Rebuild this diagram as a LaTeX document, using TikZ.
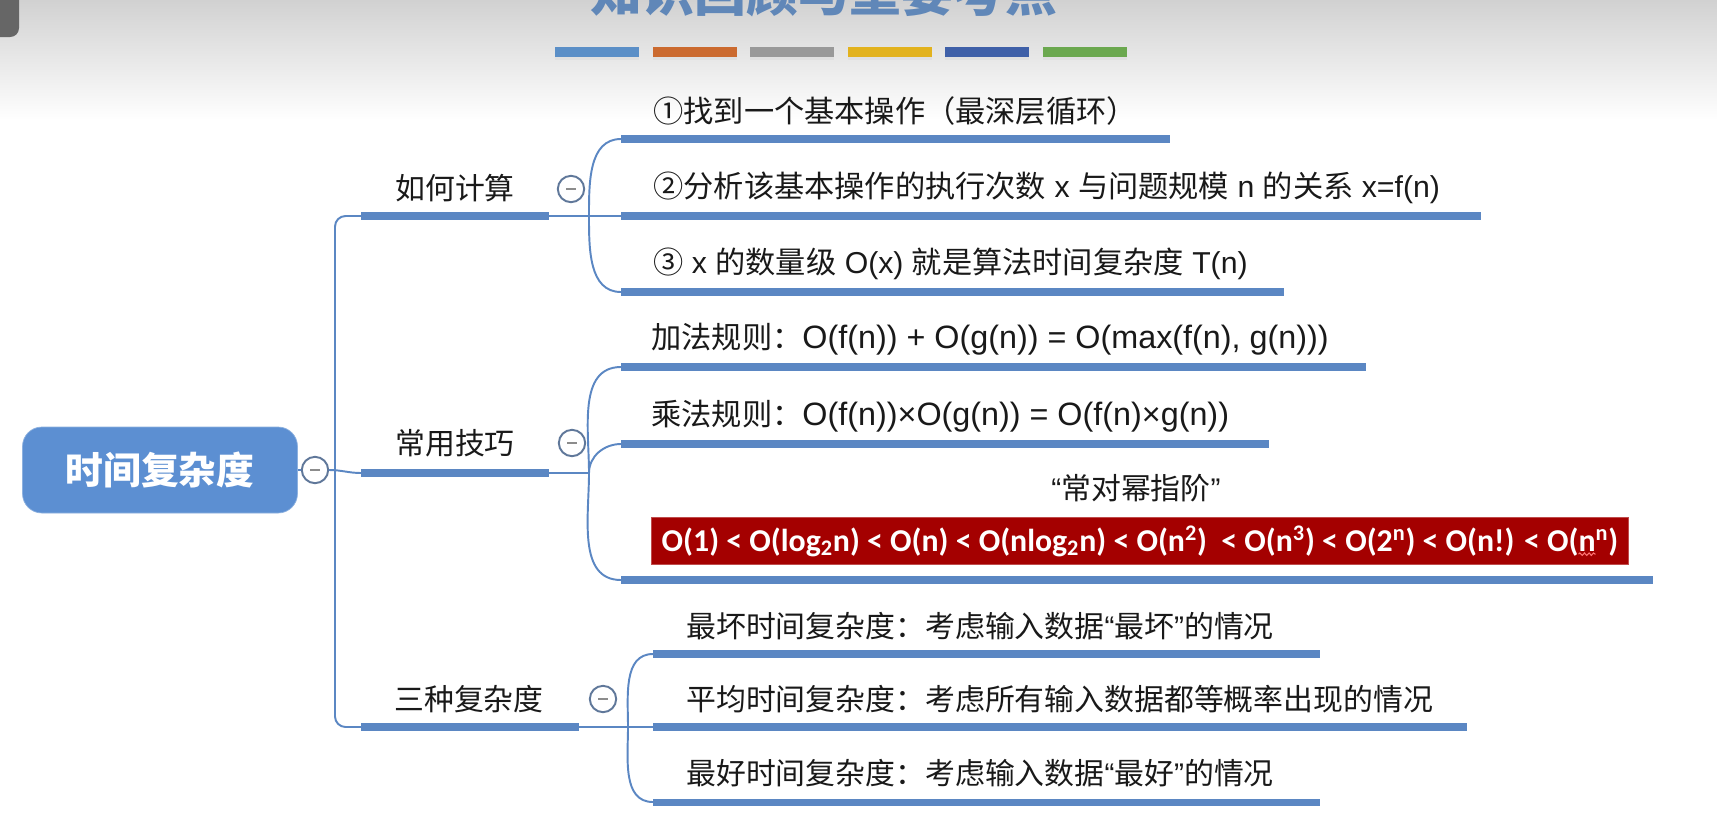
\documentclass[tikz,border=0pt]{standalone}
\usepackage{fontspec}
\setmainfont{Noto Sans CJK SC}
\newfontfamily\calfont{Carlito}
\newfontfamily\lat{Liberation Sans}
\usetikzlibrary{decorations.pathmorphing}

\definecolor{mapblue}{HTML}{5B87C3}
\definecolor{rootblue}{HTML}{5C8FD2}
\definecolor{boxred}{HTML}{A40000}
\definecolor{titleblue}{HTML}{6087B8}
\definecolor{foldgray}{HTML}{60789A}
\definecolor{barblue}{HTML}{5B8FC7}
\definecolor{barorange}{HTML}{CB6A2F}
\definecolor{bargray}{HTML}{999999}
\definecolor{baryellow}{HTML}{E2B21E}
\definecolor{bardblue}{HTML}{3F60A8}
\definecolor{bargreen}{HTML}{6BA84F}

% narrow quotes, wider latin for the rules
\newcommand\openq{{\lat “}}
\newcommand\closeq{{\lat ”}}
\newcommand\rulefont{\lat\fontsize{18.4}{20}\selectfont}

% the order line, and its part up to the last n (for the wave under it)
\newcommand\ordfont{\calfont\fontsize{18.1}{22}\selectfont\bfseries}
\newcommand\orderhead{O(1) < O(log\textsubscript{2}n) < O(n) < O(nlog\textsubscript{2}n) < O(n\textsuperscript{2}) \ < O(n\textsuperscript{3}) < O(2\textsuperscript{n}) < O(n!) < O(}
\newcommand\ordertext{\orderhead n\textsuperscript{n})}
\newlength\ordfull
\newlength\ordpre
\newlength\ordn

\begin{document}
\settowidth\ordfull{\ordfont\ordertext}
\settowidth\ordpre{\ordfont\orderhead}
\settowidth\ordn{\ordfont n}
\begin{tikzpicture}[
    x=0.02cm, y=-0.02cm,
    root/.style={rectangle, draw=rootblue!70!white, fill=rootblue, rounded corners=11pt, minimum width=5.5cm, minimum height=1.72cm, text=white, font=\fontsize{21.5}{26}\selectfont\bfseries},
    branch/.style={inner sep=0pt, text=black!90, font=\fontsize{17}{20}\selectfont},
    leaf/.style={branch, anchor=west, font=\fontsize{17.2}{20}\selectfont},
    fold/.style={circle, draw=foldgray, fill=white, line width=1.1pt, minimum size=15pt, inner sep=0pt,
      path picture={\draw[black!45, line width=1.1pt] ([xshift=-2.7pt]path picture bounding box.center) -- ([xshift=2.7pt]path picture bounding box.center);}},
    bar/.style={draw=mapblue, line width=4pt},
    link/.style={draw=mapblue, line width=1.1pt},
    redbox/.style={rectangle, fill=boxred, draw=boxred!70!white, minimum width=19.54cm, minimum height=0.94cm, inner sep=0pt, text=white, font=\ordfont},
    wave/.style={draw=red!55!white, line width=0.6pt, decorate, decoration={snake, amplitude=0.7pt, segment length=2.6pt}}
  ]

    \useasboundingbox (0,0) rectangle (1717,829);
    \clip (0,0) rectangle (1717,829);
    \fill[white] (0,0) rectangle (1717,829);
    \shade[top color=black!18, bottom color=white] (0,0) rectangle (1717,120);
    \fill[black!60, rounded corners=5pt] (-20,-20) rectangle (19,37);

    % title, cut at the top edge
    \node[anchor=base, text=titleblue, font=\fontsize{29.5}{32}\selectfont\bfseries] (title) at (824,11) {知识回顾与重要考点};
    \foreach \c [count=\i] in {barblue,barorange,bargray,baryellow,bardblue,bargreen}{
      \fill[black!12] (555+97.5*\i-97.5,50) rectangle (639+97.5*\i-97.5,60);
      \fill[\c] (555+97.5*\i-97.5,47) rectangle (639+97.5*\i-97.5,57);
    }

    % root
    \node[root] (root) at (160,470) {时间复杂度};
    \node[fold] (rfold) at (315,470) {};

    % first level
    \coordinate (b1s) at (361,216); \coordinate (b1e) at (549,216);
    \coordinate (b2s) at (361,473); \coordinate (b2e) at (549,473);
    \coordinate (b3s) at (361,727); \coordinate (b3e) at (579,727);
    \coordinate (tt) at (335,216); \coordinate (tb) at (335,727);
    \node[branch] (b1) at (455,188) {如何计算};
    \node[branch] (b2) at (455,443) {常用技巧};
    \node[branch] (b3) at (469,699) {三种复杂度};

    \draw[link] (root.east) -- (rfold.west);
    \draw[link] (rfold.east) to[out=0, in=180] (b2s);
    \draw[link, rounded corners=6pt] (b1s) -- (tt) -- (tb) -- (b3s);
    \draw[bar] (b1s) -- (b1e);
    \draw[bar] (b2s) -- (b2e);
    \draw[bar] (b3s) -- (b3e);

    % forks
    \coordinate (k1) at (589,216);
    \coordinate (k2) at (589,473);
    \coordinate (k3) at (628,727);
    \draw[link] (b1e) -- (k1);
    \draw[link] (b2e) -- (k2);
    \draw[link] (b3e) -- (k3);
    \node[fold] (f1) at (571,189) {};
    \node[fold] (f2) at (572,443) {};
    \node[fold] (f3) at (603,699) {};

    % how to compute
    \coordinate (c11s) at (621,139); \coordinate (c11e) at (1170,139);
    \coordinate (c12s) at (621,216); \coordinate (c12e) at (1481,216);
    \coordinate (c13s) at (621,292); \coordinate (c13e) at (1284,292);
    \draw[link] (k1) to[out=90, in=180] (c11s);
    \draw[link] (k1) -- (c12s);
    \draw[link] (k1) to[out=-90, in=180] (c13s);
    \draw[bar] (c11s) -- (c11e);
    \draw[bar] (c12s) -- (c12e);
    \draw[bar] (c13s) -- (c13e);
    \node[leaf] (t11) at (653,111) {①找到一个基本操作（最深层循环）};
    \node[leaf] (t12) at (653,188) {②分析该基本操作的执行次数{\lat\ x }与问题规模{\lat\ n }的关系{\lat\ x=f(n)}};
    \node[leaf] (t13) at (653,264) {③{\lat\ x }的数量级{\lat\ O(x) }就是算法时间复杂度{\lat\ T(n)}};

    % common tricks
    \coordinate (c21s) at (621,367); \coordinate (c21e) at (1366,367);
    \coordinate (c22s) at (621,444); \coordinate (c22e) at (1269,444);
    \coordinate (c23s) at (621,580); \coordinate (c23e) at (1653,580);
    \draw[link] (k2) to[out=90, in=180] (c21s);
    \draw[link] (k2) to[out=90, in=180] (c22s);
    \draw[link] (k2) to[out=-90, in=180] (c23s);
    \draw[bar] (c21s) -- (c21e);
    \draw[bar] (c22s) -- (c22e);
    \draw[bar] (c23s) -- (c23e);
    \node[leaf] (t21) at (651,339) {加法规则：{\rulefont O(f(n)) + O(g(n)) = O(max(f(n), g(n)))}};
    \node[leaf] (t22) at (651,416) {乘法规则：{\rulefont O(f(n))×O(g(n)) = O(f(n)×g(n))}};
    \node[branch] (t23) at (1136,488) {\openq 常对幂指阶\closeq};
    \node[redbox] (order) at (1140,541) {\ordertext};
    \draw[wave] ([xshift={-0.5*\ordfull+\ordpre}, yshift=-7.5pt]order.center) -- ++(\ordn,0pt);

    % three cases
    \coordinate (c31s) at (653,654); \coordinate (c31e) at (1320,654);
    \coordinate (c32s) at (653,727); \coordinate (c32e) at (1467,727);
    \coordinate (c33s) at (653,802); \coordinate (c33e) at (1320,802);
    \draw[link] (k3) to[out=90, in=180] (c31s);
    \draw[link] (k3) -- (c32s);
    \draw[link] (k3) to[out=-90, in=180] (c33s);
    \draw[bar] (c31s) -- (c31e);
    \draw[bar] (c32s) -- (c32e);
    \draw[bar] (c33s) -- (c33e);
    \node[leaf, font=\fontsize{17}{20}\selectfont] (t31) at (686,626) {最坏时间复杂度：考虑输入数据\openq 最坏\closeq 的情况};
    \node[leaf, font=\fontsize{17}{20}\selectfont] (t32) at (686,699) {平均时间复杂度：考虑所有输入数据都等概率出现的情况};
    \node[leaf, font=\fontsize{17}{20}\selectfont] (t33) at (686,773) {最好时间复杂度：考虑输入数据\openq 最好\closeq 的情况};
  \end{tikzpicture}
\end{document}
